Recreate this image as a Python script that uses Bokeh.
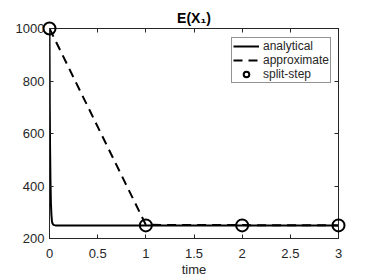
from bokeh.plotting import figure
from bokeh.models import (Range1d, LinearAxis, FixedTicker, Legend, LegendItem,
                          CustomJSTickFormatter)
from bokeh.embed import file_html
from bokeh.resources import INLINE

t_analytical = [0, 0.003, 0.006, 0.01, 0.015, 0.02, 0.025, 0.03, 0.04, 0.06, 1, 2, 3]
x_analytical = [1000, 700, 540, 420, 330, 290, 268, 258, 252, 250, 250, 250, 250]
# approximate scheme
t_approx = [0, 1, 2, 3]
x_approx = [1000, 252, 251, 250]
# split-step scheme
t_split = [0, 1, 2, 3]
x_split = [1000, 250, 250, 250]

x_ticks = [0, 0.5, 1, 1.5, 2, 2.5, 3]
y_ticks = [200, 400, 600, 800, 1000]

FONT = "Liberation Sans"
DARK = "#262626"

p = figure(width=366, height=280, output_backend="svg", toolbar_location=None,
           x_range=Range1d(0, 3), y_range=Range1d(200, 1000),
           min_border_left=49, min_border_right=28, min_border_top=28,
           min_border_bottom=42, x_axis_location=None, y_axis_location=None,
           title="E(X\u2081)")
p.title.align = "center"
p.title.text_font = FONT
p.title.text_font_size = "14px"
p.title.text_font_style = "bold"
p.title.text_color = "black"
p.title.standoff = 6
p.grid.visible = False
p.outline_line_color = DARK
p.outline_line_width = 1
p.background_fill_color = "white"
p.border_fill_color = "white"

def style(ax, ticks, show_labels, standoff):
    ax.ticker = FixedTicker(ticks=ticks)
    ax.major_tick_in = 4
    ax.major_tick_out = 0
    ax.minor_tick_line_color = None
    ax.axis_line_color = DARK
    ax.major_tick_line_color = DARK
    ax.major_label_text_font = FONT
    ax.major_label_text_font_size = "13px"
    ax.major_label_text_color = DARK
    ax.major_label_standoff = standoff
    if not show_labels:
        ax.formatter = CustomJSTickFormatter(code="return ''")
        ax.major_label_standoff = 0

xb = LinearAxis()
xb.axis_label = "time"
xb.axis_label_text_font = FONT
xb.axis_label_text_font_style = "normal"
xb.axis_label_text_font_size = "13px"
xb.axis_label_text_color = DARK
xb.axis_label_standoff = 1
yl = LinearAxis()
xt = LinearAxis()
yr = LinearAxis()
style(xb, x_ticks, True, 10); style(yl, y_ticks, True, 5)
style(xt, x_ticks, False, 0); style(yr, y_ticks, False, 0)
p.add_layout(xb, "below")
p.add_layout(yl, "left")
p.add_layout(xt, "above")
p.add_layout(yr, "right")

r_an = p.line(t_analytical, x_analytical, line_color="black", line_width=2)
r_ap = p.line(t_approx, x_approx, line_color="black", line_width=2, line_dash="9 6")
r_ss = p.scatter(t_split, x_split, marker="circle", size=12, fill_color=None,
                 line_color="black", line_width=2)
r_ss.level = "overlay"

legend = Legend(items=[LegendItem(label="analytical", renderers=[r_an]),
                       LegendItem(label="approximate", renderers=[r_ap]),
                       LegendItem(label="split-step", renderers=[r_ss])],
                location=(182, 155))
legend.border_line_color = DARK
legend.border_line_width = 1
legend.label_text_font = FONT
legend.label_text_font_size = "12px"
legend.label_text_color = DARK
legend.glyph_width = 26
legend.glyph_height = 14
legend.label_height = 14
legend.label_standoff = 4
legend.padding = 1
legend.spacing = 0
legend.margin = 0
legend.background_fill_alpha = 1
p.add_layout(legend, "center")

open("out.html", "w").write(file_html(p, INLINE))
